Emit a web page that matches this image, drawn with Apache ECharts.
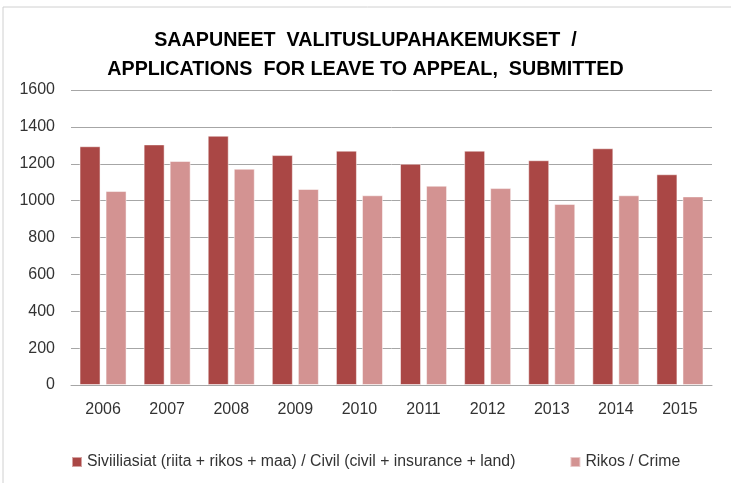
<!DOCTYPE html>
<html>
<head>
<meta charset="utf-8">
<script src="https://cdn.jsdelivr.net/npm/echarts@6/dist/echarts.min.js"></script>
<style>
  html, body { margin: 0; padding: 0; background: #fff; }
  #chart { width: 731px; height: 483px; }
</style>
</head>
<body>
<div id="chart"></div>
<script>
// vuodet / years
var years = ['2006', '2007', '2008', '2009', '2010', '2011', '2012', '2013', '2014', '2015'];
// siviiliasiat
var civil = [1295, 1305, 1352, 1247, 1271, 1200, 1271, 1219, 1284, 1143];
// rikos
var crime = [1052, 1215, 1173, 1063, 1029, 1081, 1068, 982, 1029, 1023];
var yTicks = [0, 200, 400, 600, 800, 1000, 1200, 1400, 1600];

var civilName = 'Siviiliasiat (riita + rikos + maa) / Civil (civil + insurance + land)';
var crimeName = 'Rikos / Crime';
var font = '"Liberation Sans", sans-serif';

var chart = echarts.init(document.getElementById('chart'));
chart.setOption({
  animation: false,
  title: {
    text: 'SAAPUNEET  VALITUSLUPAHAKEMUKSET  /\nAPPLICATIONS  FOR LEAVE TO APPEAL,  SUBMITTED',
    left: 'center',
    top: 21,
    textStyle: {
      fontFamily: font,
      fontSize: 19.7,
      fontWeight: 'bold',
      color: '#000',
      lineHeight: 29
    }
  },
  graphic: [{
    type: 'rect',
    shape: { x: 3, y: 7, width: 740, height: 490 },
    style: { fill: 'none', stroke: '#d0d0d0', lineWidth: 1 },
    silent: true
  }],
  legend: {
    left: 66,
    top: 449,
    itemWidth: 10,
    itemHeight: 10,
    itemGap: 54,
    icon: 'rect',
    textStyle: { fontFamily: font, fontSize: 15.8, color: '#333' },
    data: [civilName, crimeName]
  },
  grid: { left: 71, right: 19, top: 90, bottom: 98 },
  xAxis: {
    type: 'category',
    data: years,
    axisTick: { show: false },
    axisLine: { lineStyle: { color: '#a6a6a6' } },
    axisLabel: { fontFamily: font, fontSize: 16, color: '#333', margin: 17 }
  },
  yAxis: {
    type: 'value',
    min: yTicks[0],
    max: yTicks[yTicks.length - 1],
    interval: 200,
    axisLine: { show: false },
    axisTick: { show: false },
    splitLine: { lineStyle: { color: '#a6a6a6' } },
    axisLabel: {
      fontFamily: font, fontSize: 16, color: '#333', margin: 16,
      formatter: function (v) { return String(v); }
    }
  },
  series: [{
    name: civilName,
    type: 'bar',
    data: civil,
    barWidth: 21,
    barGap: '24%',
    itemStyle: { color: '#aa4745', borderColor: 'rgba(255,255,255,0.5)', borderWidth: 1 }
  }, {
    name: crimeName,
    type: 'bar',
    data: crime,
    barWidth: 21,
    itemStyle: { color: '#d39392', borderColor: 'rgba(255,255,255,0.5)', borderWidth: 1 }
  }]
});
</script>
</body>
</html>
